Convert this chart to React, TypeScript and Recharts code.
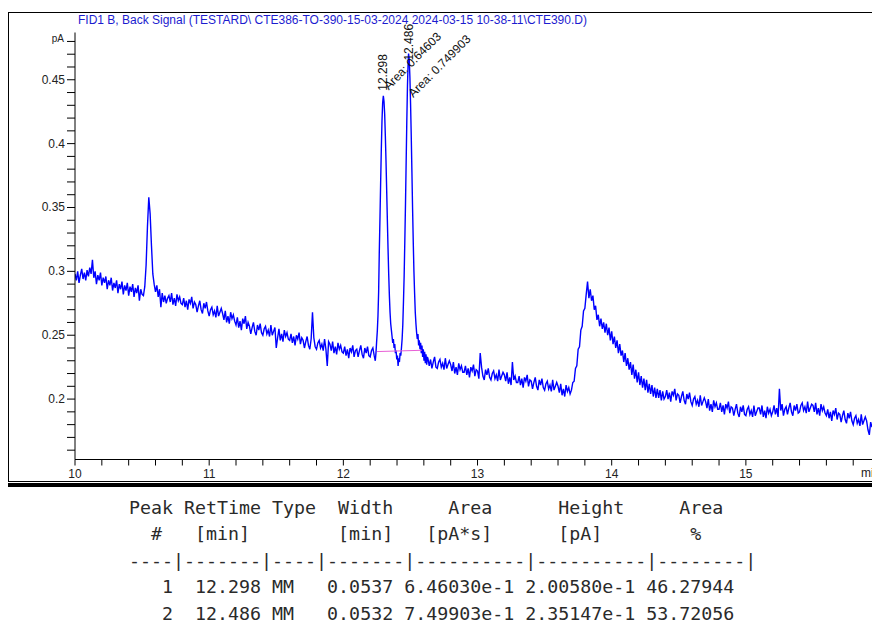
import React from 'react'
import { LineChart, Line, XAxis, YAxis, ReferenceDot } from 'recharts'

const TITLE = 'FID1 B, Back Signal (TESTARD\\ CTE386-TO-390-15-03-2024 2024-03-15 10-38-11\\CTE390.D)'

// detector samples (time grid start + step, values in pA)
const SAMPLE_STEP = 0.01

const startA = 10.0
const valuesA = [
    0.298, 0.293, 0.300, 0.291, 0.297, 0.302, 0.294, 0.299, 0.293, 0.301,
    0.296, 0.303, 0.298, 0.309, 0.295, 0.300, 0.290, 0.297, 0.293, 0.299,
    0.289, 0.295, 0.291, 0.296, 0.286, 0.293, 0.289, 0.295, 0.285, 0.291,
    0.287, 0.293, 0.283, 0.290, 0.286, 0.292, 0.282, 0.289, 0.285, 0.291,
    0.281, 0.288, 0.284, 0.290, 0.280, 0.287, 0.283, 0.289, 0.277, 0.286,
    0.282,
]

// small peak near 10.55 min
const smallPeak: [number, number][] = [
    [10.51, 0.281], [10.52, 0.288], [10.53, 0.305], [10.54, 0.335], [10.55, 0.358],
    [10.56, 0.345], [10.57, 0.320], [10.58, 0.298], [10.59, 0.290], [10.60, 0.284],
    [10.61, 0.289], [10.62, 0.280], [10.63, 0.286], [10.64, 0.272], [10.65, 0.283],
    [10.66, 0.276],
]

const startB = 10.67
const valuesB = [
    0.281, 0.275, 0.279,
    0.281, 0.276, 0.283, 0.274, 0.279, 0.273, 0.282, 0.277, 0.280, 0.275,
    0.274, 0.279, 0.272, 0.277, 0.270, 0.278, 0.275, 0.280, 0.271, 0.276,
    0.274, 0.268, 0.273, 0.277, 0.270, 0.267, 0.275, 0.271, 0.276, 0.269,
    0.265, 0.270, 0.272, 0.266, 0.269, 0.264, 0.273, 0.265, 0.268, 0.271,
    0.267, 0.262, 0.269, 0.260, 0.265, 0.259, 0.268, 0.263, 0.266, 0.261,
    0.258, 0.264, 0.256, 0.261, 0.254, 0.263, 0.259, 0.265, 0.255, 0.260,
    0.257, 0.251, 0.256, 0.260, 0.253, 0.250, 0.258, 0.254, 0.259, 0.252,
    0.250, 0.255, 0.257, 0.251, 0.254, 0.249, 0.258, 0.250, 0.253, 0.256,
    0.240, 0.248, 0.255, 0.246, 0.251, 0.245, 0.254, 0.249, 0.252, 0.247,
    0.246, 0.251, 0.244, 0.249, 0.242, 0.250, 0.247, 0.252, 0.243, 0.248,
    0.246, 0.240, 0.245, 0.249, 0.242, 0.239, 0.247, 0.268, 0.248, 0.241,
    0.239, 0.244, 0.246, 0.240, 0.243, 0.238, 0.247, 0.239, 0.226, 0.245,
    0.243, 0.238, 0.245, 0.236, 0.241, 0.235, 0.244, 0.239, 0.242, 0.237,
    0.236, 0.241, 0.234, 0.239, 0.232, 0.240, 0.237, 0.242, 0.233, 0.238,
    0.239, 0.233, 0.238, 0.242, 0.235, 0.232, 0.240, 0.236, 0.241, 0.234,
    0.233, 0.238, 0.240, 0.234,
]

// the two integrated peaks
const mainPeaks: [number, number][] = [
    [12.238, 0.230], [12.243, 0.236], [12.248, 0.245], [12.253, 0.253], [12.258, 0.265],
    [12.263, 0.284], [12.268, 0.316], [12.273, 0.342], [12.278, 0.370], [12.283, 0.396],
    [12.288, 0.418], [12.293, 0.432], [12.298, 0.4375], [12.303, 0.433], [12.308, 0.423],
    [12.313, 0.406], [12.318, 0.386], [12.323, 0.363], [12.328, 0.340], [12.333, 0.318],
    [12.338, 0.298], [12.343, 0.281], [12.348, 0.268], [12.353, 0.259], [12.358, 0.254],
    [12.363, 0.249], [12.368, 0.244], [12.373, 0.247], [12.378, 0.240], [12.383, 0.243],
    [12.388, 0.236], [12.393, 0.238], [12.398, 0.231], [12.403, 0.234], [12.408, 0.226],
    [12.413, 0.232], [12.418, 0.229], [12.423, 0.236], [12.428, 0.234], [12.433, 0.240],
    [12.438, 0.247], [12.443, 0.258], [12.448, 0.276], [12.453, 0.296], [12.458, 0.323],
    [12.463, 0.352], [12.468, 0.385], [12.473, 0.418], [12.478, 0.446], [12.483, 0.464],
    [12.486, 0.4705], [12.491, 0.466], [12.496, 0.452], [12.501, 0.431], [12.506, 0.406],
    [12.511, 0.378], [12.516, 0.349], [12.521, 0.323], [12.526, 0.300], [12.531, 0.283],
    [12.536, 0.268], [12.541, 0.259], [12.546, 0.252], [12.551, 0.247], [12.556, 0.251],
    [12.561, 0.242], [12.566, 0.246], [12.571, 0.239], [12.576, 0.244], [12.581, 0.236],
    [12.586, 0.242], [12.591, 0.233], [12.596, 0.239], [12.601, 0.230], [12.606, 0.237],
    [12.611, 0.228], [12.616, 0.235], [12.621, 0.227], [12.626, 0.233],
]

const startC = 12.63
const valuesC = [
    0.232, 0.226, 0.231, 0.224, 0.229, 0.233, 0.225,
    0.224, 0.229, 0.231, 0.225, 0.228, 0.223, 0.232, 0.224, 0.227, 0.230,
    0.227, 0.222, 0.229, 0.220, 0.225, 0.219, 0.228, 0.223, 0.226, 0.221,
    0.221, 0.226, 0.219, 0.224, 0.217, 0.225, 0.222, 0.227, 0.218, 0.223,
    0.222, 0.216, 0.236, 0.225, 0.218, 0.215, 0.223, 0.219, 0.224, 0.217,
    0.215, 0.220, 0.222, 0.216, 0.219, 0.214, 0.223, 0.215, 0.218, 0.221,
    0.219, 0.214, 0.221, 0.212, 0.217, 0.211, 0.229, 0.215, 0.218, 0.213,
    0.213, 0.218, 0.211, 0.216, 0.209, 0.217, 0.214, 0.219, 0.210, 0.215,
    0.214, 0.208, 0.213, 0.217, 0.210, 0.207, 0.215, 0.211, 0.216, 0.209,
    0.207, 0.212, 0.214, 0.208, 0.211, 0.206, 0.215, 0.207, 0.210, 0.213,
    0.210, 0.205, 0.212, 0.203, 0.208, 0.202, 0.211, 0.206, 0.209, 0.204,
]

// broad hump around 13.8 min, then the tail to the end of the run
const startD = 13.70
const valuesD = [
    0.207, 0.213, 0.214, 0.224, 0.226, 0.239, 0.241, 0.254, 0.257, 0.269,
    0.271, 0.282, 0.292, 0.279, 0.286, 0.277, 0.281, 0.270, 0.273, 0.262,
    0.266, 0.257, 0.263, 0.255, 0.260, 0.252, 0.259, 0.250, 0.256, 0.246,
    0.253, 0.243, 0.249, 0.240, 0.246, 0.236, 0.243, 0.234, 0.238, 0.229,
    0.236, 0.226, 0.232, 0.223, 0.229, 0.219, 0.227, 0.216, 0.223, 0.213,
    0.221, 0.211, 0.218, 0.209, 0.216, 0.207, 0.215, 0.205, 0.212, 0.204,
    0.211, 0.202, 0.209, 0.201, 0.208,
    0.201, 0.207, 0.199, 0.206, 0.200,
    0.202, 0.207, 0.200, 0.205, 0.198, 0.206, 0.203, 0.208, 0.199, 0.204,
    0.203, 0.197, 0.202, 0.206, 0.199, 0.196, 0.204, 0.200, 0.205, 0.198,
    0.195, 0.200, 0.202, 0.196, 0.199, 0.194, 0.203, 0.195, 0.198, 0.201,
    0.198, 0.193, 0.200, 0.191, 0.196, 0.190, 0.199, 0.194, 0.197, 0.192,
    0.192, 0.197, 0.190, 0.195, 0.188, 0.196, 0.193, 0.198, 0.189, 0.194,
    0.193, 0.187, 0.192, 0.196, 0.189, 0.186, 0.194, 0.190, 0.195, 0.188,
    0.187, 0.192, 0.194, 0.188, 0.191, 0.186, 0.195, 0.187, 0.190, 0.193,
    0.193, 0.188, 0.195, 0.186, 0.191, 0.185, 0.194, 0.189, 0.192, 0.187,
    0.190, 0.195, 0.188, 0.193, 0.186, 0.208, 0.191, 0.196, 0.187, 0.192,
    0.194, 0.188, 0.193, 0.197, 0.190, 0.187, 0.195, 0.191, 0.196, 0.189,
    0.190, 0.195, 0.197, 0.191, 0.194, 0.189, 0.198, 0.190, 0.193, 0.196,
    0.195, 0.190, 0.197, 0.188, 0.193, 0.187, 0.196, 0.191, 0.194, 0.189,
    0.187, 0.192, 0.185, 0.190, 0.183, 0.191, 0.188, 0.193, 0.184, 0.189,
    0.188, 0.182, 0.187, 0.191, 0.184, 0.181, 0.189, 0.185, 0.190, 0.183,
    0.180, 0.185, 0.187, 0.181, 0.184, 0.179, 0.188, 0.180, 0.183, 0.186,
    0.183, 0.176, 0.172, 0.182, 0.178,
]

// integration baseline under peaks 1 and 2
const baselinePts: [number, number][] = [[12.25, 0.2372], [12.585, 0.2382]]

// peak table
const peakNo = [1, 2]
const retTimes = ['12.298', '12.486']
const peakTypes = ['MM', 'MM']
const peakWidths = ['0.0537', '0.0532']
const peakAreas = ['6.46030e-1', '7.49903e-1']
const peakHeights = ['2.00580e-1', '2.35147e-1']
const areaPct = ['46.27944', '53.72056']
const areaLabels = ['0.64603', '0.749903']

const xTicks = [10, 10.2, 10.4, 10.6, 10.8, 11, 11.2, 11.4, 11.6, 11.8, 12, 12.2, 12.4, 12.6, 12.8,
    13, 13.2, 13.4, 13.6, 13.8, 14, 14.2, 14.4, 14.6, 14.8, 15, 15.2, 15.4, 15.6, 15.8]
const yTicks = [0.16, 0.17, 0.18, 0.19, 0.2, 0.21, 0.22, 0.23, 0.24, 0.25, 0.26, 0.27, 0.28, 0.29,
    0.3, 0.31, 0.32, 0.33, 0.34, 0.35, 0.36, 0.37, 0.38, 0.39, 0.4, 0.41, 0.42, 0.43, 0.44, 0.45,
    0.46, 0.47, 0.48]

const fromGrid = (start: number, vals: number[]) =>
    vals.map((v, i) => ({ t: +(start + i * SAMPLE_STEP).toFixed(3), v }))
const fromPairs = (pts: [number, number][]) => pts.map(([t, v]) => ({ t, v }))

const trace = [
    ...fromGrid(startA, valuesA),
    ...fromPairs(smallPeak),
    ...fromGrid(startB, valuesB),
    ...fromPairs(mainPeaks),
    ...fromGrid(startC, valuesC),
    ...fromGrid(startD, valuesD),
]
const baseline = fromPairs(baselinePts)

const apexOf = (rt: number) =>
    trace.filter(p => Math.abs(p.t - rt) < 0.01).reduce((a, b) => (b.v > a.v ? b : a))

const SANS = '"Liberation Sans", Arial, sans-serif'

const XTick = (props: any) => {
    const { x, y, payload } = props
    const v = payload.value
    if (Math.abs(v - Math.round(v)) > 1e-6) return <g />
    return (
        <text x={x} y={y} dy={10} textAnchor="middle" fontSize={12} fill="#222" fontFamily={SANS}>
            {Math.round(v)}
        </text>
    )
}

const YTick = (props: any) => {
    const { x, y, payload } = props
    const v = payload.value
    if (Math.abs(v - 0.48) < 1e-6) {
        return (
            <text x={x - 1} y={y} dy={1} textAnchor="end" fontSize={10} fill="#222" fontFamily={SANS}>pA</text>
        )
    }
    if (Math.round(v * 1000) % 50 !== 0) return <g />
    return (
        <text x={x} y={y} dy={4} textAnchor="end" fontSize={12} fill="#222" fontFamily={SANS}>
            {String(+v.toFixed(2))}
        </text>
    )
}

// rt + area annotations drawn next to each peak apex
const PeakLabel = (idx: number, rtDy: number, areaDx: number, areaDy: number) => (props: any) => {
    const { cx, cy } = props
    return (
        <g fontFamily={SANS} fontSize={12} fill="#111">
            <text x={cx} y={cy + rtDy} transform={`rotate(-90 ${cx} ${cy + rtDy})`} dominantBaseline="central">
                {retTimes[idx]}
            </text>
            <text x={cx + areaDx} y={cy + areaDy} transform={`rotate(-45 ${cx + areaDx} ${cy + areaDy})`}
                dominantBaseline="central">
                {'Area: ' + areaLabels[idx]}
            </text>
        </g>
    )
}

const pad = (s: string, n: number) => s.padStart(n, ' ')
const tableLines = [
    'Peak RetTime Type  Width     Area      Height     Area',
    '  #   [min]        [min]   [pA*s]      [pA]        %',
    '----|-------|----|-------|----------|----------|--------|',
    ...peakNo.map((n, i) =>
        pad(String(n), 4) + ' ' + pad(retTimes[i], 7) + ' ' + peakTypes[i].padEnd(4, ' ') + ' ' +
        pad(peakWidths[i], 6) + ' ' + pad(peakAreas[i], 10) + ' ' + pad(peakHeights[i], 10) + ' ' +
        pad(areaPct[i], 8)),
]

export default function App() {
    const apex1 = apexOf(12.298)
    const apex2 = apexOf(12.486)
    return (
        <div style={{ position: 'absolute', left: 0, top: 0, width: 872, height: 633, overflow: 'hidden', background: '#fff', fontFamily: SANS }}>
            {/* frame */}
            <div style={{ position: 'absolute', left: 8, top: 12, width: 900, height: 468, borderLeft: '1px solid #000', borderTop: '1px solid #000', borderBottom: '1px solid #000' }} />
            <div style={{ position: 'absolute', left: 8, top: 483, width: 880, height: 4, background: '#000' }} />
            <div style={{ position: 'absolute', left: 78, top: 13, fontSize: 12, color: '#1c1ccf', whiteSpace: 'nowrap' }}>{TITLE}</div>
            <div style={{ position: 'absolute', left: 861, top: 466, fontSize: 12, color: '#222', whiteSpace: 'nowrap' }}>min</div>

            <LineChart width={872} height={490} data={trace}
                margin={{ top: 32.5, right: 0, bottom: 5, left: 0 }}
                style={{ position: 'absolute', left: 0, top: 0 }}>
                <XAxis type="number" dataKey="t" domain={[10, 15.94]} allowDataOverflow ticks={xTicks}
                    interval={0} tick={<XTick />} tickSize={6} height={25.5}
                    stroke="#000" tickLine={{ stroke: '#000' }} axisLine={{ stroke: '#000' }} />
                <YAxis type="number" domain={[0.1527, 0.487]} allowDataOverflow ticks={yTicks}
                    interval={0} tick={<YTick />} tickSize={8} tickMargin={2} width={75}
                    stroke="#000" tickLine={{ stroke: '#000' }} axisLine={{ stroke: '#000' }} />
                <Line data={trace} dataKey="v" type="linear" stroke="#0000ff" strokeWidth={1.4}
                    dot={false} isAnimationActive={false} />
                <Line data={baseline} dataKey="v" type="linear" stroke="#e85fd6" strokeWidth={1}
                    dot={false} isAnimationActive={false} />
                <ReferenceDot x={apex1.t} y={apex1.v} r={0} shape={PeakLabel(0, -5, 2.5, -8)} />
                <ReferenceDot x={apex2.t} y={apex2.v} r={0} shape={PeakLabel(1, 7, 2, 41.5)} />
            </LineChart>

            <pre style={{ position: 'absolute', left: 129, top: 494.75, margin: 0, fontFamily: '"DejaVu Sans Mono", monospace', fontSize: 18.3, lineHeight: '26.5px', color: '#2a2a2a' }}>
                {tableLines.join('\n')}
            </pre>
        </div>
    )
}
